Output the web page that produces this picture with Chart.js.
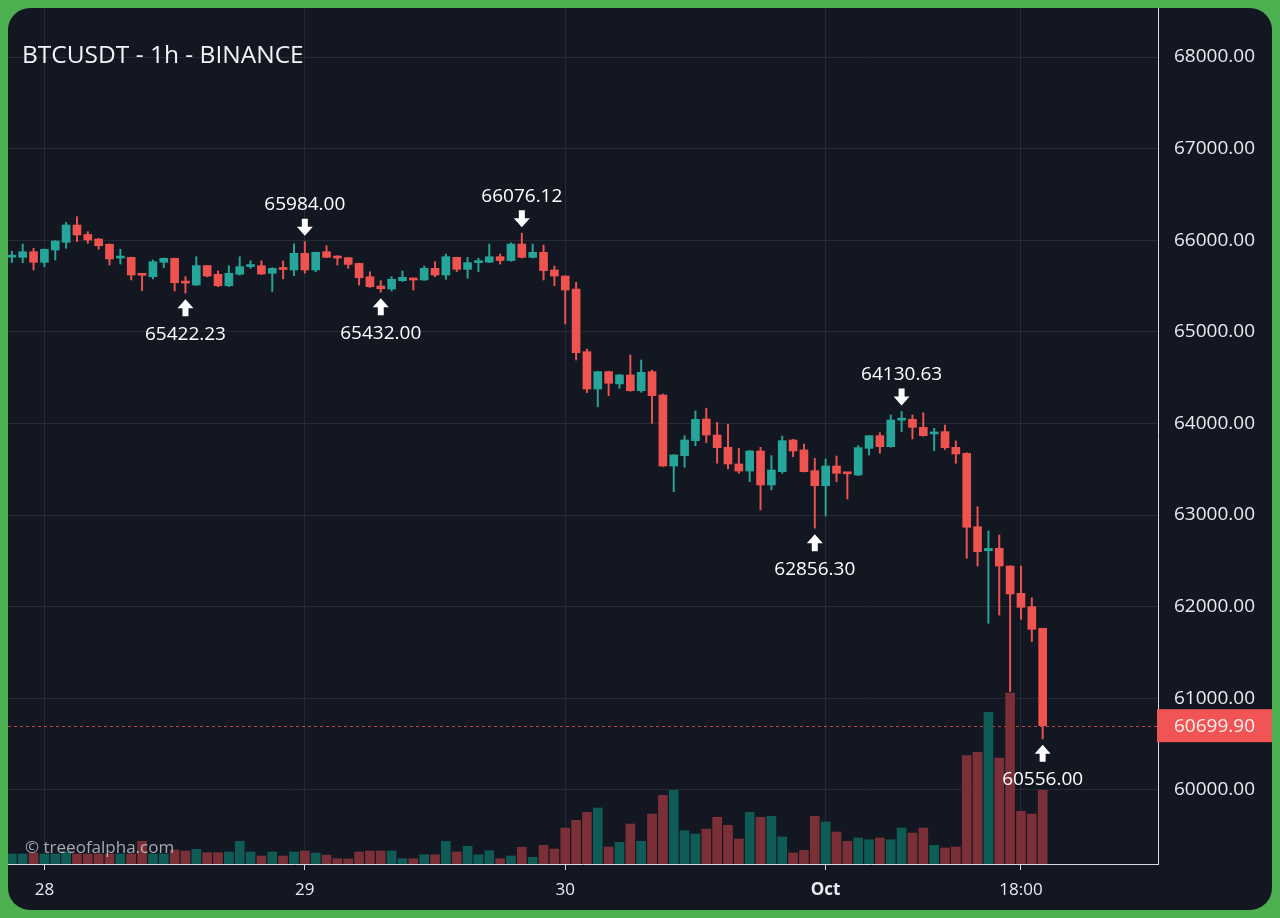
<!DOCTYPE html>
<html><head><meta charset="utf-8">
<script src="https://cdn.jsdelivr.net/npm/chart.js@4.4.1/dist/chart.umd.min.js"></script>
<style>
html,body{margin:0;padding:0;background:#4caf50;width:1280px;height:918px;overflow:hidden;}
#box{position:absolute;left:8px;top:8px;width:1264px;height:902px;background:#131722;border-radius:22px;overflow:hidden;}
canvas{display:block}
</style></head><body>
<div id="box"><canvas id="c" width="1264" height="902"></canvas></div>
<script>
// ---- data ----
const times = [
 '09-27 21','09-27 22','09-27 23',
 '09-28 00','09-28 01','09-28 02','09-28 03','09-28 04','09-28 05','09-28 06','09-28 07','09-28 08','09-28 09','09-28 10','09-28 11',
 '09-28 12','09-28 13','09-28 14','09-28 15','09-28 16','09-28 17','09-28 18','09-28 19','09-28 20','09-28 21','09-28 22','09-28 23',
 '09-29 00','09-29 01','09-29 02','09-29 03','09-29 04','09-29 05','09-29 06','09-29 07','09-29 08','09-29 09','09-29 10','09-29 11',
 '09-29 12','09-29 13','09-29 14','09-29 15','09-29 16','09-29 17','09-29 18','09-29 19','09-29 20','09-29 21','09-29 22','09-29 23',
 '09-30 00','09-30 01','09-30 02','09-30 03','09-30 04','09-30 05','09-30 06','09-30 07','09-30 08','09-30 09','09-30 10','09-30 11',
 '09-30 12','09-30 13','09-30 14','09-30 15','09-30 16','09-30 17','09-30 18','09-30 19','09-30 20','09-30 21','09-30 22','09-30 23',
 '10-01 00','10-01 01','10-01 02','10-01 03','10-01 04','10-01 05','10-01 06','10-01 07','10-01 08','10-01 09','10-01 10','10-01 11',
 '10-01 12','10-01 13','10-01 14','10-01 15','10-01 16','10-01 17','10-01 18','10-01 19','10-01 20'
];
const opens = [
 65815,65813,65874,
 65759,65893,65977,66166,66062,66013,65956,65805,65813,65631,65601,65759,
 65802,65545,65511,65723,65628,65503,65628,65712,65722,65639,65693,65675,
 65857,65675,65874,65820,65809,65747,65601,65500,65467,65558,65584,65566,
 65693,65620,65813,65682,65755,65760,65820,65778,65958,65813,65868,65675,
 65609,65467,64783,64376,64565,64431,64529,64357,64565,64310,63535,63648,
 63812,64048,63873,63739,63557,63480,63699,63328,63473,63819,63710,63484,
 63320,63535,63462,63437,63728,63866,63746,64035,64045,63957,63885,63910,
 63739,63673,62872,62610,62637,62443,62145,61999,61763
];
const highs = [
 65880,65958,65912,
 65905,65995,66195,66257,66093,66021,65960,65901,65815,65635,65784,65805,
 65805,65602,65820,65725,65667,65722,65820,65776,65776,65700,65773,65960,
 65984,65870,65940,65831,65812,65750,65655,65558,65602,65664,65586,65718,
 65765,65849,65815,65813,65802,65958,65850,65972,66076.12,65958,65947,65718,
 65612,65540,64812,64570,64570,64535,64747,64692,64583,64320,63660,63866,
 64136,64165,64012,63993,63728,63705,63739,63648,63862,63826,63775,63619,
 63611,63644,63465,63757,63870,63899,64092,64130.63,64092,64117,63946,63982,
 63808,63680,63090,62825,62782,62445,62443,62097,61765
];
const lows = [
 65755,65754,65675,
 65711,65784,65912,65984,65966,65901,65729,65740,65566,65449,65577,65700,
 65445,65422.23,65505,65600,65492,65492,65620,65693,65625,65440,65577,65613,
 65640,65655,65810,65729,65693,65511,65485,65432,65445,65550,65456,65560,
 65601,65573,65657,65584,65657,65755,65740,65770,65805,65805,65566,65503,
 65085,64692,64335,64182,64303,64383,64350,64340,64001,63530,63254,63521,
 63757,63790,63565,63502,63455,63364,63055,63273,63455,63636,63470,62856.30,
 62989,63364,63175,63430,63655,63674,63740,63910,63830,63860,63702,63717,
 63565,62527,62443,61818,61908,61071,61861,61617,60556
];
const closes = [
 65825,65874,65759,
 65901,65991,66166,66057,66002,65940,65795,65815,65620,65617,65765,65802,
 65536,65532,65723,65609,65503,65639,65711,65722,65631,65693,65680,65857,
 65675,65868,65813,65805,65736,65590,65492,65470,65573,65595,65566,65693,
 65620,65820,65682,65755,65762,65820,65778,65958,65813,65868,65668,65609,
 65456,64772,64376,64565,64438,64529,64357,64558,64303,63535,63655,63819,
 64045,63873,63735,63557,63480,63699,63328,63491,63812,63699,63473,63320,
 63535,63455,63450,63735,63866,63746,64037,64045,63957,63866,63900,63735,
 63666,62866,62600,62635,62443,62138,61992,61752,60699.90
];
const volumes = [
 400,400,440,
 400,400,480,400,400,400,400,400,400,908,400,400,
 560,520,588,452,452,480,908,480,320,480,320,480,
 520,440,360,212,200,480,520,520,520,212,212,372,
 372,908,480,708,372,532,212,320,668,268,748,600,
 1440,1748,2068,2240,680,868,1600,908,2000,2748,2948,1332,
 1200,1400,1868,1548,1000,2068,1868,1908,1080,440,548,1908,
 1680,1280,908,1040,972,1040,972,1440,1240,1440,748,640,
 680,4332,4468,6068,4240,6840,2108,2000,2948
];
const priceTicks = [60000,61000,62000,63000,64000,65000,66000,67000,68000];
const xTickTimes = ['09-28 00','09-29 00','09-30 00','10-01 00','10-01 18'];
const xTickLabels = ['28','29','30','Oct','18:00'];
const markTimes = ['09-28 13','09-29 00','09-29 07','09-29 20','09-30 23','10-01 07','10-01 20'];
const markKinds = ['low','high','low','high','low','high','low'];
const title = 'BTCUSDT - 1h - BINANCE';
const watermark = '\u00A9 treeofalpha.com';

// ---- helpers ----
function hourOf(t){const m=+t.slice(0,2),d=+t.slice(3,5),h=+t.slice(6,8);const dd=(m===10?d+30:d);return (dd-28)*24+h;}
const hx = times.map(hourOf);
const UP='#26a69a', DOWN='#ef5350', VUP='#0f5c57', VDOWN='#7b2f36';
const isUp = closes.map((c,i)=>c>=opens[i]);
const FONT='"Open Sans", "Noto Sans", sans-serif';
const TXT='#e8eaf0';

const overlay = {
  id:'overlay',
  beforeDatasetsDraw(chart){
    const {ctx, chartArea:a} = chart; const y = chart.scales.y;
    const last = closes[closes.length-1]; const py = Math.round(y.getPixelForValue(last))+0.5;
    ctx.save(); ctx.strokeStyle='rgba(239,83,80,0.8)'; ctx.lineWidth=1; ctx.setLineDash([3,3]);
    ctx.beginPath(); ctx.moveTo(a.left,py); ctx.lineTo(a.right,py); ctx.stroke(); ctx.restore();
  },
  afterDraw(chart){
    const {ctx, chartArea:a} = chart; const x=chart.scales.x, y=chart.scales.y;
    ctx.save();
    // title
    ctx.fillStyle='#f2f4f8'; ctx.font='24.5px '+FONT; ctx.textBaseline='middle'; ctx.textAlign='left';
    ctx.fillText(title, 14, 48);
    // watermark
    ctx.fillStyle='rgba(215,218,225,0.75)'; ctx.font='17px '+FONT;
    ctx.fillText(watermark, 17, 840);
    // markers
    ctx.font='19px '+FONT; ctx.textAlign='center';
    markTimes.forEach((t,k)=>{
      const i = times.indexOf(t); const px = x.getPixelForValue(hx[i]);
      ctx.fillStyle='#ffffff';
      if(markKinds[k]==='high'){
        const v=highs[i]; const tip=y.getPixelForValue(v)-6;
        ctx.beginPath(); ctx.moveTo(px,tip); ctx.lineTo(px-8,tip-9); ctx.lineTo(px-3,tip-9); ctx.lineTo(px-3,tip-17);
        ctx.lineTo(px+3,tip-17); ctx.lineTo(px+3,tip-9); ctx.lineTo(px+8,tip-9); ctx.closePath(); ctx.fill();
        ctx.fillText(v.toFixed(2), px, tip-31);
      } else {
        const v=lows[i]; const tip=y.getPixelForValue(v)+6;
        ctx.beginPath(); ctx.moveTo(px,tip); ctx.lineTo(px-8,tip+9); ctx.lineTo(px-3,tip+9); ctx.lineTo(px-3,tip+17);
        ctx.lineTo(px+3,tip+17); ctx.lineTo(px+3,tip+9); ctx.lineTo(px+8,tip+9); ctx.closePath(); ctx.fill();
        ctx.fillText(v.toFixed(2), px, tip+35);
      }
    });
    // last price box
    const last = closes[closes.length-1]; const py = y.getPixelForValue(last);
    ctx.fillStyle='#f05454'; ctx.fillRect(a.right-1, py-16.5, chart.width-a.right+1, 33);
    ctx.fillStyle='#fff0f0'; ctx.textAlign='left'; ctx.font='19px '+FONT;
    ctx.fillText(last.toFixed(2), a.right+16, py+1);
    ctx.restore();
  }
};

new Chart(document.getElementById('c'), {
  type:'bar',
  data:{ datasets:[
    { label:'body', order:0, grouped:false, barThickness:8, minBarLength:2, yAxisID:'y',
      data: hx.map((h,i)=>({x:h, y:[opens[i], closes[i]]})),
      backgroundColor: isUp.map(u=>u?UP:DOWN), borderWidth:0 },
    { label:'wick', order:1, grouped:false, barThickness:1.3, yAxisID:'y',
      data: hx.map((h,i)=>({x:h, y:[lows[i], highs[i]]})),
      backgroundColor: isUp.map(u=>u?UP:DOWN), borderWidth:0 },
    { label:'volume', order:2, grouped:false, barThickness:9, yAxisID:'yv',
      data: hx.map((h,i)=>({x:h, y:volumes[i]})),
      backgroundColor: isUp.map(u=>u?VUP:VDOWN), borderWidth:0 }
  ]},
  options:{
    responsive:false, animation:false, events:[],
    layout:{padding:0},
    plugins:{legend:{display:false}, tooltip:{enabled:false}},
    scales:{
      x:{ type:'linear', offset:false, min:-3.355, max:102.63,
          afterBuildTicks:s=>{s.ticks = xTickTimes.map(t=>({value:hourOf(t)}));},
          afterFit:s=>{s.height=46; s.paddingLeft=0; s.paddingRight=0;},
          ticks:{ autoSkip:false, maxRotation:0, padding:10, color:TXT,
                  callback:(v,i)=>xTickLabels[i],
                  font:(c)=> (c.tick && c.tick.label==='Oct') ? {family:FONT,size:17,weight:'bold'} : {family:FONT,size:17} },
          grid:{ offset:false, color:'#262a36', tickColor:'#d8dae0', tickLength:6 },
          border:{ color:'#d8dae0', width:1 } },
      y:{ position:'right', min:59190, max:68535,
          afterBuildTicks:s=>{s.ticks = priceTicks.map(v=>({value:v}));},
          afterFit:s=>{s.width=114; s.paddingTop=0; s.paddingBottom=0;},
          ticks:{ padding:16, color:TXT, font:{family:FONT,size:19}, callback:v=>Number(v).toFixed(2) },
          grid:{ color:'#262a36', drawTicks:false },
          border:{ color:'#d8dae0', width:1 } },
      yv:{ display:false, min:0, max:34240 }
    }
  },
  plugins:[overlay]
});
</script>
</body></html>
